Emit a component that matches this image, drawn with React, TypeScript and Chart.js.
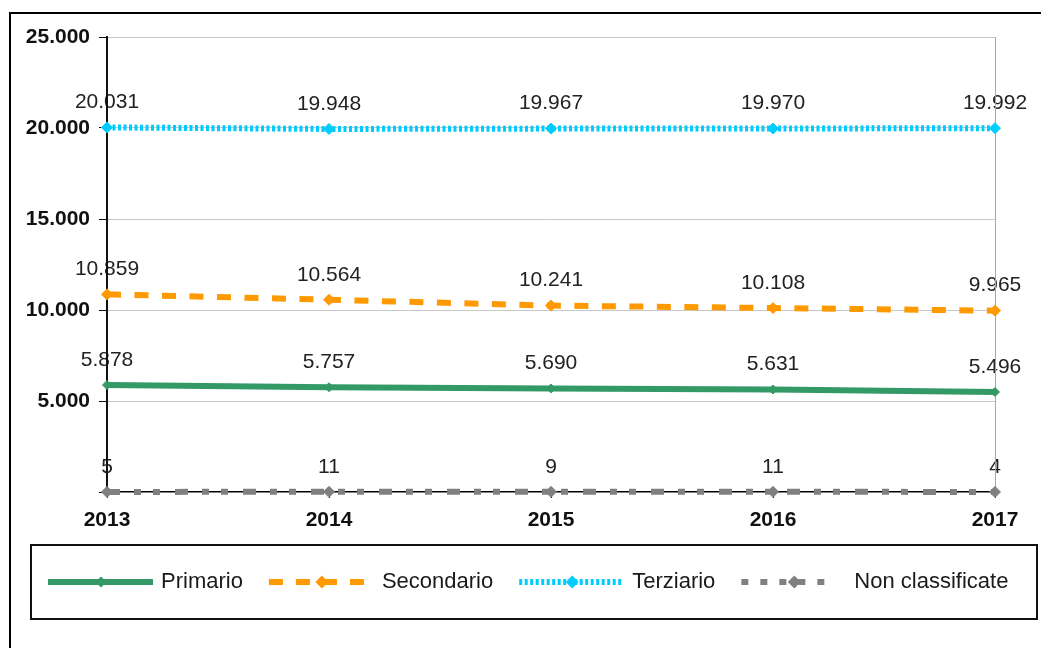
import React, { useEffect, useRef } from 'react';
import { Chart, registerables } from 'chart.js';

Chart.register(...registerables);

const years = ['2013', '2014', '2015', '2016', '2017'];
const primario = [5878, 5757, 5690, 5631, 5496];
const secondario = [10859, 10564, 10241, 10108, 9965];
const terziario = [20031, 19948, 19967, 19970, 19992];
const nonClassificate = [5, 11, 9, 11, 4];
const seriesNames = ['Primario', 'Secondario', 'Terziario', 'Non classificate'];
const seriesValues = [primario, secondario, terziario, nonClassificate];
const yMax = 25000;
const yStep = 5000;

const FONT = "'Liberation Sans', Arial, sans-serif";

const styles = [
  { color: '#339966', dash: [] as number[], legendDash: [] as number[], radius: 4.5, legendLen: 105 },
  { color: '#FF9900', dash: [14, 13.5], legendDash: [14, 13], radius: 5.5, legendLen: 95 },
  { color: '#00CCFF', dash: [3, 2.5], legendDash: [3, 2.5], radius: 5.5, legendLen: 103 },
  { color: '#808080', dash: [13, 14, 7, 12, 7, 15], legendDash: [7, 12], radius: 5.5, legendLen: 95 },
];

const fmt = (v: number) => String(v).replace(/\B(?=(\d{3})+(?!\d))/g, '.');

const framePlugin = {
  id: 'frame',
  beforeDraw(chart: any) {
    const ctx = chart.ctx;
    ctx.save();
    ctx.strokeStyle = '#000';
    ctx.lineWidth = 2;
    ctx.strokeRect(10, 13, 1100, 700);
    // data labels (drawn below axes, like the reference)
    ctx.fillStyle = '#222';
    ctx.font = `21px ${FONT}`;
    ctx.textAlign = 'center';
    ctx.textBaseline = 'middle';
    chart.data.datasets.forEach((ds: any, i: number) => {
      const meta = chart.getDatasetMeta(i);
      meta.data.forEach((pt: any, j: number) => {
        ctx.fillText(fmt(ds.data[j]), pt.x, pt.y - 25);
      });
    });
    ctx.restore();
  },
};

const legendPlugin = {
  id: 'customLegend',
  afterDraw(chart: any) {
    const ctx = chart.ctx;
    ctx.save();
    ctx.strokeStyle = '#111';
    ctx.lineWidth = 2;
    ctx.strokeRect(31, 545, 1006, 74);
    const yc = 582;
    let x = 48;
    ctx.font = `22px ${FONT}`;
    ctx.textBaseline = 'middle';
    ctx.textAlign = 'left';
    seriesNames.forEach((name, i) => {
      const st = styles[i];
      ctx.strokeStyle = st.color;
      ctx.lineWidth = 6;
      ctx.lineCap = 'butt';
      ctx.setLineDash(st.legendDash);
      ctx.beginPath();
      ctx.moveTo(x, yc);
      ctx.lineTo(x + st.legendLen, yc);
      ctx.stroke();
      ctx.setLineDash([]);
      const mx = x + 53;
      const r = st.radius + 1;
      ctx.fillStyle = st.color;
      ctx.beginPath();
      ctx.moveTo(mx, yc - r);
      ctx.lineTo(mx + r, yc);
      ctx.lineTo(mx, yc + r);
      ctx.lineTo(mx - r, yc);
      ctx.closePath();
      ctx.fill();
      ctx.fillStyle = '#1a1a1a';
      const tx = x + 113;
      ctx.fillText(name, tx, yc);
      x = tx + ctx.measureText(name).width + 26;
    });
    ctx.restore();
  },
};

export default function App() {
  const ref = useRef<HTMLCanvasElement | null>(null);
  useEffect(() => {
    if (!ref.current) return;
    const chart = new Chart(ref.current, {
      type: 'line',
      data: {
        labels: years,
        datasets: seriesNames.map((name, i) => ({
          label: name,
          data: seriesValues[i],
          borderColor: styles[i].color,
          backgroundColor: styles[i].color,
          borderWidth: 6,
          borderDash: styles[i].dash,
          borderCapStyle: 'butt' as const,
          pointStyle: 'rectRot' as const,
          pointRadius: styles[i].radius,
          pointBorderWidth: 1,
          pointBackgroundColor: styles[i].color,
          pointBorderColor: styles[i].color,
          tension: 0,
          fill: false,
          clip: false as const,
        })),
      },
      options: {
        animation: false,
        responsive: false,
        maintainAspectRatio: false,
        devicePixelRatio: 1,
        layout: { padding: { left: 0, top: 37, right: 46, bottom: 0 } },
        plugins: {
          legend: { display: false },
          tooltip: { enabled: false },
          title: { display: false },
        },
        scales: {
          x: {
            type: 'category',
            offset: false,
            afterFit: (s: any) => {
              s.height = 648 - 492;
            },
            grid: {
              color: (c: any) => (c.index === years.length - 1 ? '#A6A6A6' : 'rgba(0,0,0,0)'),
              tickColor: '#000',
              tickLength: 6,
              lineWidth: 1,
            },
            border: { color: '#000', width: 1.5 },
            ticks: {
              color: '#111',
              font: { family: FONT, size: 21, weight: 'bold' },
              padding: 10,
              maxRotation: 0,
              autoSkip: false,
            },
          },
          y: {
            min: 0,
            max: yMax,
            afterFit: (s: any) => {
              s.width = 107;
            },
            grid: {
              color: (c: any) => (c.tick && c.tick.value === 0 ? 'rgba(0,0,0,0)' : '#C8C8C8'),
              tickColor: '#000',
              tickLength: 8,
              lineWidth: 1,
            },
            border: { color: '#111', width: 2 },
            ticks: {
              stepSize: yStep,
              color: '#111',
              font: { family: FONT, size: 21, weight: 'bold' },
              padding: 9,
              callback: (v: any) => (Number(v) === 0 ? '' : fmt(Number(v))),
            },
          },
        },
      },
      plugins: [framePlugin, legendPlugin],
    });
    return () => chart.destroy();
  }, []);
  return (
    <div style={{ position: 'absolute', left: 0, top: 0, width: 1041, height: 648, background: '#fff' }}>
      <canvas ref={ref} width={1041} height={648} style={{ display: 'block' }} />
    </div>
  );
}
